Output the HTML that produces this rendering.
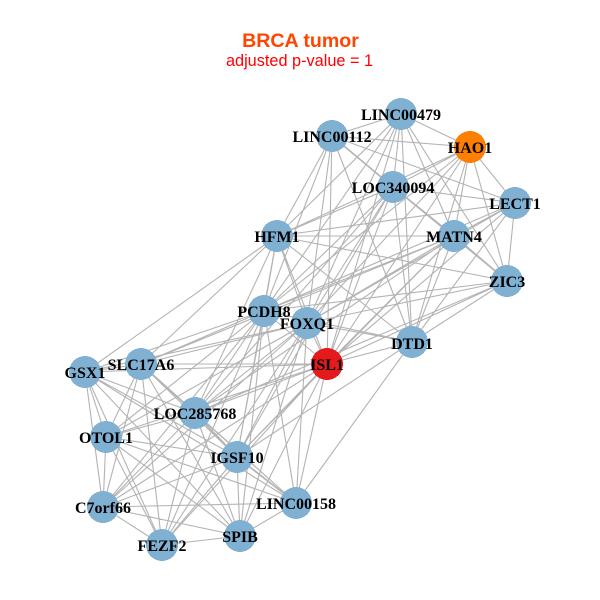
<!DOCTYPE html>
<html><head><meta charset="utf-8"><style>html,body{margin:0;padding:0;background:#fff}svg{display:block}</style></head><body>
<svg width="600" height="600" viewBox="0 0 600 600" xmlns="http://www.w3.org/2000/svg">
<rect width="600" height="600" fill="#fff"/>
<g stroke="#b3b3b3" stroke-width="1.1" fill="none">
<path d="M401 114L332 136M401 114L470 147M332 136L470 147M401 114L393 187M332 136L515 203M470 147L393 187M470 147L515 203M470 147L277 236M470 147L454 236M393 187L515 203M393 187L277 236M401 114L454 236M401 114L507 281M515 203L277 236M515 203L454 236M515 203L264 311M454 236L277 236M277 236L507 281M515 203L507 281M470 147L507 281M393 187L507 281M454 236L412 342M507 281L412 342M515 203L412 342M393 187L412 342M470 147L412 342M401 114L412 342M332 136L412 342M277 236L412 342M277 236L264 311M277 236L307 323M277 236L327 364M332 136L277 236M332 136L264 311M332 136L307 323M332 136L327 364M401 114L277 236M401 114L264 311M401 114L307 323M401 114L327 364M393 187L264 311M393 187L307 323M393 187L327 364M470 147L264 311M470 147L307 323M470 147L327 364M454 236L264 311M454 236L307 323M454 236L327 364M507 281L264 311M507 281L307 323M507 281L327 364M515 203L307 323M515 203L327 364M264 311L412 342M307 323L412 342M412 342L327 364M307 323L327 364M264 311L327 364"/>
<path d="M85 372L141 364M85 372L195 413M85 372L106 437M85 372L103 507M85 372L162 545M85 372L237 457M85 372L240 536M85 372L296 503M141 364L106 437M141 364L237 457M141 364L103 507M141 364L162 545M141 364L240 536M141 364L296 503M195 413L106 437M195 413L103 507M195 413L162 545M195 413L240 536M195 413L296 503M106 437L237 457M106 437L103 507M106 437L162 545M106 437L240 536M106 437L296 503M237 457L103 507M237 457L162 545M237 457L240 536M296 503L103 507M296 503L240 536M103 507L162 545M103 507L240 536M162 545L240 536"/>
<path d="M264 311L85 372M264 311L141 364M264 311L195 413M264 311L106 437M264 311L237 457M264 311L103 507M264 311L162 545M264 311L240 536M264 311L296 503M307 323L85 372M307 323L141 364M307 323L195 413M307 323L106 437M307 323L237 457M307 323L103 507M307 323L162 545M307 323L240 536M307 323L296 503M327 364L85 372M327 364L141 364M327 364L195 413M327 364L106 437M327 364L237 457M327 364L103 507M327 364L162 545M327 364L240 536M327 364L296 503M412 342L237 457M412 342L296 503M277 236L85 372M277 236L141 364M277 236L195 413M277 236L237 457M454 236L141 364M454 236L195 413M507 281L195 413M393 187L195 413M393 187L237 457M454 236L237 457"/>
<path stroke-width="1.7" d="M332 136L393 187M393 187L454 236M454 236L507 281M141 364L195 413M195 413L237 457M237 457L296 503"/>
</g>
<g fill="#80b1d3" shape-rendering="crispEdges">
<circle cx="401" cy="114" r="16"/><circle cx="332" cy="136" r="16"/><circle cx="393" cy="187" r="16"/><circle cx="515" cy="203" r="16"/><circle cx="277" cy="236" r="16"/><circle cx="454" cy="236" r="16"/><circle cx="507" cy="281" r="16"/><circle cx="264" cy="311" r="16"/><circle cx="307" cy="323" r="16"/><circle cx="412" cy="342" r="16"/><circle cx="85" cy="372" r="16"/><circle cx="141" cy="364" r="16"/><circle cx="195" cy="413" r="16"/><circle cx="106" cy="437" r="16"/><circle cx="237" cy="457" r="16"/><circle cx="296" cy="503" r="16"/><circle cx="103" cy="507" r="16"/><circle cx="162" cy="545" r="16"/><circle cx="240" cy="536" r="16"/>
</g>
<circle cx="470" cy="147" r="16" fill="#ff7f00" shape-rendering="crispEdges"/>
<circle cx="327" cy="364" r="16" fill="#e41a1c" shape-rendering="crispEdges"/>
<g font-family="'Liberation Serif',serif" font-weight="bold" font-size="16" fill="#000" text-anchor="middle">
<text x="401" y="120">LINC00479</text><text x="332" y="142">LINC00112</text><text x="470" y="153">HAO1</text><text x="393" y="193">LOC340094</text><text x="515" y="209">LECT1</text><text x="277" y="242">HFM1</text><text x="454" y="242">MATN4</text><text x="507" y="287">ZIC3</text><text x="264" y="317">PCDH8</text><text x="307" y="329">FOXQ1</text><text x="412" y="349">DTD1</text><text x="327" y="370">ISL1</text><text x="85" y="378">GSX1</text><text x="141" y="370">SLC17A6</text><text x="195" y="419">LOC285768</text><text x="106" y="443">OTOL1</text><text x="237" y="463">IGSF10</text><text x="296" y="509">LINC00158</text><text x="103" y="513">C7orf66</text><text x="162" y="551">FEZF2</text><text x="240" y="542">SPIB</text>
</g>
<g font-family="'Liberation Sans',sans-serif" text-anchor="middle">
<text x="300.5" y="47" font-size="19.6" font-weight="bold" fill="#ff4500">BRCA tumor</text>
<text x="299.5" y="66" font-size="16.3" fill="#ff0000">adjusted p-value = 1</text>
</g>
</svg>
</body></html>
